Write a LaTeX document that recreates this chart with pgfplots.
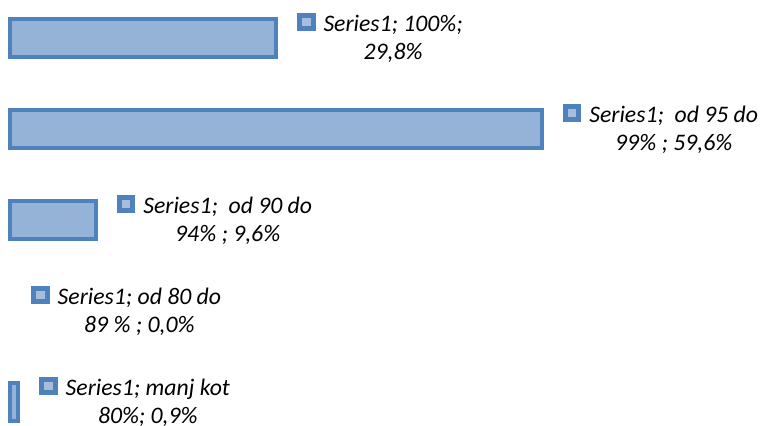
\documentclass[border=0pt]{standalone}
\usepackage{pgfplots}
\pgfplotsset{compat=1.18}
\usepackage{fontspec}
\setmainfont{Carlito}

\definecolor{barfill}{HTML}{95B3D7}
\definecolor{barline}{HTML}{4F81BD}
\definecolor{keyfill}{HTML}{A7BEDB}

% little legend key drawn in front of each data label
\newcommand\key{\raisebox{5.5bp}{\setlength{\fboxsep}{0pt}\setlength{\fboxrule}{5bp}%
  \fcolorbox{barline}{keyfill}{\rule{0pt}{8.5bp}\hspace{8.5bp}}}}
\newcommand\lbl[2]{\begin{tabular}{@{}l@{\hspace{8bp}}c@{}}\key & #1\\ & #2\end{tabular}}
\newcommand\lbla{\lbl{Series1; 100\%;}{29,8\%}}
\newcommand\lblb{\lbl{Series1;\ \ od 95 do}{99\% ; 59,6\%}}
\newcommand\lblc{\lbl{Series1;\ \ od 90 do}{94\% ; 9,6\%}}
\newcommand\lbld{\lbl{Series1; od 80 do}{89 \% ; 0,0\%}}
\newcommand\lble{\lbl{Series1; manj kot}{80\%; 0,9\%}}

\begin{document}
\begin{tikzpicture}
  \useasboundingbox (0,0) rectangle (765bp,426bp);
  \begin{axis}[
    ,at={(0,0)},anchor=south west
    ,width=765bp,height=426bp,scale only axis
    ,hide axis,clip=false
    ,xmin=-1.121,xmax=84.64
    ,ymin=0.736,ymax=5.418
    ,xbar,bar width=38bp,bar shift=0pt
    ]
    \addplot[fill=barfill,draw=barline,line width=4bp]
      coordinates {(29.8,5) (59.6,4) (9.6,3) (0.9,1)};
    \addplot[draw=none,fill=none
      ,point meta=explicit symbolic
      ,nodes near coords={\csname lbl\pgfplotspointmeta\endcsname}
      ,nodes near coords style={anchor=west,inner sep=0pt,xshift=21bp,yshift=-2bp,
        font=\itshape\fontsize{23.8}{27.5}\selectfont}]
      coordinates {(29.8,5) [a] (59.6,4) [b] (9.6,3) [c] (0,2) [d] (0.9,1) [e]};
  \end{axis}
\end{tikzpicture}
\end{document}
